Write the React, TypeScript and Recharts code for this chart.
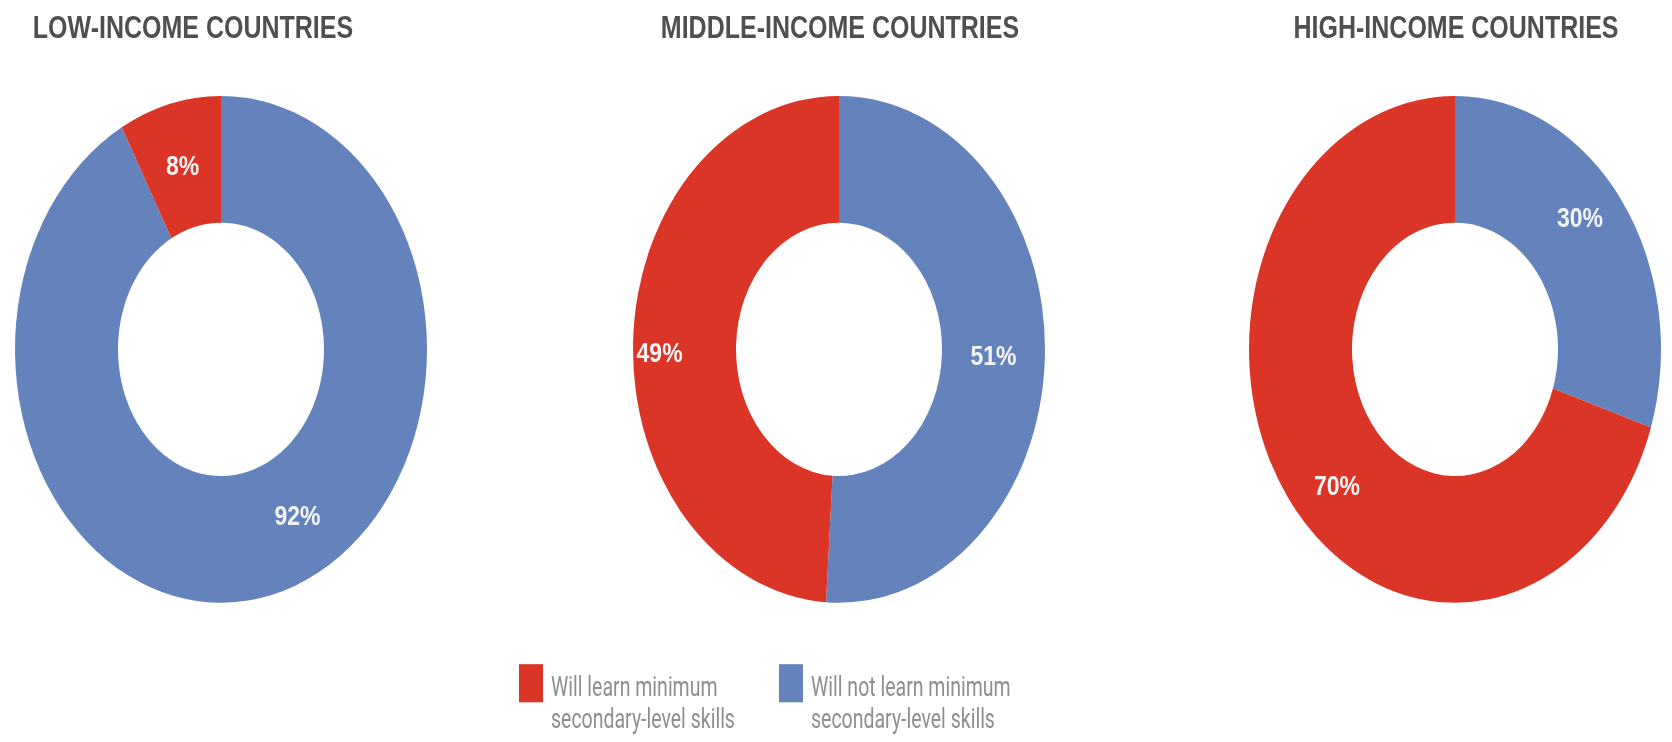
import React from "react";
import { PieChart, Pie, Cell } from "recharts";

// Share of children by country income group (%)
const groups = ["LOW-INCOME COUNTRIES", "MIDDLE-INCOME COUNTRIES", "HIGH-INCOME COUNTRIES"];
const willNotLearn = [92, 51, 30];
const willLearn = [8, 49, 70];
const seriesNames = ["Will not learn minimum secondary-level skills", "Will learn minimum secondary-level skills"];
const legendLines = [
  ["Will learn minimum", "secondary-level skills"],
  ["Will not learn minimum", "secondary-level skills"],
];

const RED = "#da3526";
const BLUE = "#6483bd";
const sliceColors = [BLUE, RED];
const legendColors = [RED, BLUE];

const W = 1672;
const H = 742;
const STRETCH = 1.23; // the source figure is squeezed horizontally
const BASE_H = H / STRETCH;

const donutCenters = [221, 839, 1455];
const titleCenters = [193, 840, 1456];
const CY = 284;
const BOX = 424;
const RAD = Math.PI / 180;

// small hand nudges so the % labels sit where the original put them
const labelNudge = [
  [[38, -15], [0, 0]],
  [[0, 0], [-25, 7]],
  [[0, -17], [7, 20]],
];

const makeLabel = (chart: number) => (props: any) => {
  const { cx, cy, midAngle, innerRadius, outerRadius, value, index } = props;
  const r = (innerRadius + outerRadius) / 2;
  const [nx, ny] = labelNudge[chart][index] || [0, 0];
  const x = cx + r * Math.cos(-midAngle * RAD) + nx;
  const y = cy + r * Math.sin(-midAngle * RAD) + ny;
  return (
    <text
      x={x}
      y={y}
      fill='#f4f4f4'
      textAnchor='middle'
      dominantBaseline='central'
      fontSize={23}
      fontWeight={700}
      fontFamily='"Liberation Sans", Arial, sans-serif'
    >
      {`${value}%`}
    </text>
  );
};

export default function App() {
  return (
    <div style={{ position: "absolute", left: 0, top: 0, width: W, height: H, overflow: "hidden", background: "#fff" }}>
      <div
        style={{
          position: "absolute",
          left: 0,
          top: 0,
          width: W,
          height: BASE_H,
          transform: `scaleY(${STRETCH})`,
          transformOrigin: "0 0",
          fontFamily: '"Liberation Sans", Arial, sans-serif',
        }}
      >
        {groups.map((g, i) => {
          const data = [
            { name: seriesNames[0], value: willNotLearn[i] },
            { name: seriesNames[1], value: willLearn[i] },
          ];
          return (
            <React.Fragment key={g}>
              <div
                style={{
                  position: "absolute",
                  left: titleCenters[i] - 250,
                  top: 7,
                  width: 500,
                  textAlign: "center",
                  fontSize: 25,
                  lineHeight: "30px",
                  fontWeight: 700,
                  color: "#4f4f4f",
                }}
              >
                {g}
              </div>
              <div style={{ position: "absolute", left: donutCenters[i] - BOX / 2, top: CY - BOX / 2 }}>
                <PieChart width={BOX} height={BOX} margin={{ top: 0, right: 0, bottom: 0, left: 0 }}>
                  <Pie
                    data={data}
                    dataKey='value'
                    cx='50%'
                    cy='50%'
                    startAngle={90}
                    endAngle={-270}
                    innerRadius={103}
                    outerRadius={206}
                    stroke='none'
                    label={makeLabel(i)}
                    labelLine={false}
                    isAnimationActive={false}
                  >
                    {data.map((d, k) => (
                      <Cell key={`cell-${k}`} fill={sliceColors[k]} />
                    ))}
                  </Pie>
                </PieChart>
              </div>
            </React.Fragment>
          );
        })}

        {/* legend */}
        {legendLines.map((lines, i) => (
          <div key={i} style={{ position: "absolute", left: i === 0 ? 519 : 779, top: 540 }}>
            <div style={{ position: "absolute", left: 0, top: 0, width: 24, height: 31, background: legendColors[i] }} />
            <div
              style={{
                position: "absolute",
                left: 32,
                top: 6,
                whiteSpace: "nowrap",
                fontFamily: "Roboto, sans-serif",
                fontSize: 19.5,
                lineHeight: "23px",
                color: "#8e8e8e",
                transform: "scaleY(1.12)",
                transformOrigin: "0 0",
              }}
            >
              {lines.map((l) => (
                <div key={l}>{l}</div>
              ))}
            </div>
          </div>
        ))}
      </div>
    </div>
  );
}
